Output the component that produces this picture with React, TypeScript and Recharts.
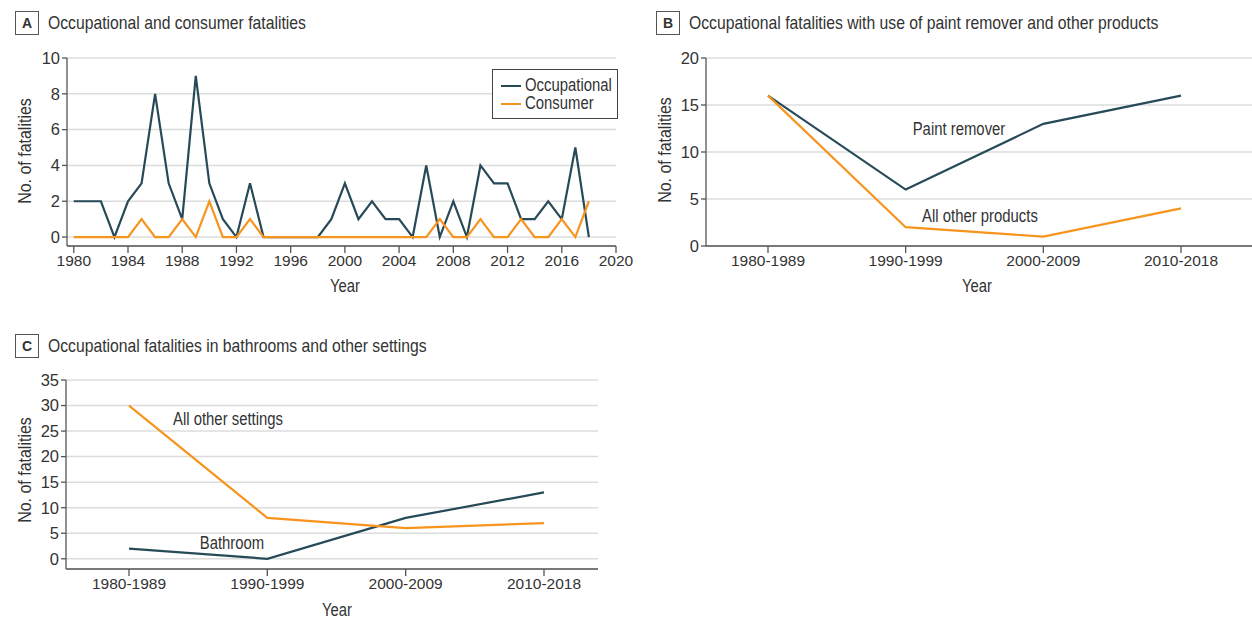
import { LineChart, Line, XAxis, YAxis, CartesianGrid } from 'recharts';

// panel A - yearly counts
const years = [
  1980, 1981, 1982, 1983, 1984, 1985, 1986, 1987, 1988, 1989,
  1990, 1991, 1992, 1993, 1994, 1995, 1996, 1997, 1998, 1999,
  2000, 2001, 2002, 2003, 2004, 2005, 2006, 2007, 2008, 2009,
  2010, 2011, 2012, 2013, 2014, 2015, 2016, 2017, 2018,
];
const occupational = [
  2, 2, 2, 0, 2, 3, 8, 3, 1, 9,
  3, 1, 0, 3, 0, 0, 0, 0, 0, 1,
  3, 1, 2, 1, 1, 0, 4, 0, 2, 0,
  4, 3, 3, 1, 1, 2, 1, 5, 0,
];
const consumer = [
  0, 0, 0, 0, 0, 1, 0, 0, 1, 0,
  2, 0, 0, 1, 0, 0, 0, 0, 0, 0,
  0, 0, 0, 0, 0, 0, 0, 1, 0, 0,
  1, 0, 0, 1, 0, 0, 1, 0, 2,
];
const yearTicks = [1980, 1984, 1988, 1992, 1996, 2000, 2004, 2008, 2012, 2016, 2020];
const ticksA = [0, 2, 4, 6, 8, 10];

// panels B and C - by decade
const decades = ['1980-1989', '1990-1999', '2000-2009', '2010-2018'];
const paintRemover = [16, 6, 13, 16];
const otherProducts = [16, 2, 1, 4];
const ticksB = [0, 5, 10, 15, 20];
const bathroom = [2, 0, 8, 13];
const otherSettings = [30, 8, 6, 7];
const ticksC = [0, 5, 10, 15, 20, 25, 30, 35];

const DARK = '#274a58';
const ORANGE = '#f7941d';
const AXIS = '#555';
const TEXT = '#333';
const SANS = '"Liberation Sans", Arial, sans-serif';
const SQUEEZE = 0.85; // reference type is a condensed face

const dataA = years.map((y, i) => ({ year: y, occupational: occupational[i], consumer: consumer[i] }));
const dataB = decades.map((d, i) => ({ decade: d, paint: paintRemover[i], other: otherProducts[i] }));
const dataC = decades.map((d, i) => ({ decade: d, bathroom: bathroom[i], other: otherSettings[i] }));

const xTick = { fill: TEXT, fontSize: 15.5, fontFamily: SANS };
const yTick = { fill: TEXT, fontSize: 16.5, fontFamily: SANS };
const axisLine = { stroke: AXIS, strokeWidth: 1.3 };

function PanelTitle({ letter, text, x, y }: { letter: string; text: string; x: number; y: number }) {
  return (
    <div style={{ position: 'absolute', left: x, top: y, display: 'flex', alignItems: 'center' }}>
      <div
        style={{
          width: 22,
          height: 22,
          border: '1.3px solid #555',
          display: 'flex',
          alignItems: 'center',
          justifyContent: 'center',
          fontFamily: SANS,
          fontWeight: 'bold',
          fontSize: 14,
          color: TEXT,
        }}
      >
        {letter}
      </div>
      <div
        style={{
          marginLeft: 9,
          fontFamily: SANS,
          fontSize: 18.5,
          color: TEXT,
          whiteSpace: 'nowrap',
          transform: `scaleX(${SQUEEZE})`,
          transformOrigin: 'left center',
        }}
      >
        {text}
      </div>
    </div>
  );
}

function Txt({ x, y, text, size = 17.5, rotate = false }: { x: number; y: number; text: string; size?: number; rotate?: boolean }) {
  return (
    <div
      style={{
        position: 'absolute',
        left: x,
        top: y,
        transform: `translate(-50%, -50%)${rotate ? ' rotate(-90deg)' : ''} scaleX(${SQUEEZE})`,
        fontFamily: SANS,
        fontSize: size,
        color: TEXT,
        whiteSpace: 'nowrap',
        lineHeight: 1,
      }}
    >
      {text}
    </div>
  );
}

export default function App() {
  const legendText = {
    position: 'absolute' as const,
    left: 32,
    lineHeight: 1,
    transform: `scaleX(${SQUEEZE})`,
    transformOrigin: 'left center',
  };
  return (
    <div style={{ position: 'absolute', left: 0, top: 0, width: 1252, height: 620, background: '#fff', overflow: 'hidden' }}>
      {/* A */}
      <PanelTitle letter="A" text="Occupational and consumer fatalities" x={15} y={11} />
      <div style={{ position: 'absolute', left: 0, top: 0 }}>
        <LineChart width={640} height={300} data={dataA} margin={{ top: 58, right: 24, bottom: 24, left: 17 }}>
          <CartesianGrid vertical={false} stroke="#dcdcdc" strokeWidth={1.5} />
          <XAxis
            dataKey="year"
            type="number"
            domain={[1979.5, 2020]}
            ticks={yearTicks}
            interval={0}
            tick={xTick}
            tickSize={7}
            tickMargin={2}
            axisLine={axisLine}
            tickLine={axisLine}
            height={30}
          />
          <YAxis
            domain={[-0.5, 10]}
            ticks={ticksA}
            interval={0}
            tick={yTick}
            tickSize={5}
            tickMargin={2}
            axisLine={axisLine}
            tickLine={axisLine}
            width={50}
          />
          <Line dataKey="occupational" stroke={DARK} strokeWidth={2.2} dot={false} isAnimationActive={false} />
          <Line dataKey="consumer" stroke={ORANGE} strokeWidth={2.2} dot={false} isAnimationActive={false} />
        </LineChart>
      </div>
      <Txt x={25} y={151} text="No. of fatalities" size={18.8} rotate />
      <Txt x={345} y={287} text="Year" />
      <div
        style={{
          position: 'absolute',
          left: 492,
          top: 69,
          width: 124,
          height: 48,
          border: '1.5px solid #444',
          background: '#fff',
          fontFamily: SANS,
          fontSize: 17.5,
          color: TEXT,
        }}
      >
        <div style={{ position: 'absolute', left: 8, top: 15, width: 20, height: 2, background: DARK }} />
        <div style={{ ...legendText, top: 7 }}>Occupational</div>
        <div style={{ position: 'absolute', left: 8, top: 33, width: 20, height: 2, background: ORANGE }} />
        <div style={{ ...legendText, top: 25 }}>Consumer</div>
      </div>

      {/* B */}
      <PanelTitle letter="B" text="Occupational fatalities with use of paint remover and other products" x={656} y={11} />
      <div style={{ position: 'absolute', left: 640, top: 0 }}>
        <LineChart width={612} height={300} data={dataB} margin={{ top: 58, right: 0, bottom: 24, left: 16 }}>
          <CartesianGrid vertical={false} stroke="#dcdcdc" strokeWidth={1.5} />
          <XAxis
            dataKey="decade"
            scale="point"
            padding={{ left: 62, right: 71 }}
            interval={0}
            tick={xTick}
            tickSize={7}
            tickMargin={2}
            axisLine={axisLine}
            tickLine={axisLine}
            height={30}
          />
          <YAxis
            domain={[0, 20]}
            ticks={ticksB}
            interval={0}
            tick={yTick}
            tickSize={5}
            tickMargin={2}
            axisLine={axisLine}
            tickLine={axisLine}
            width={50}
          />
          <Line dataKey="paint" stroke={DARK} strokeWidth={2.2} dot={false} isAnimationActive={false} />
          <Line dataKey="other" stroke={ORANGE} strokeWidth={2.2} dot={false} isAnimationActive={false} />
        </LineChart>
      </div>
      <Txt x={665} y={150} text="No. of fatalities" size={18.8} rotate />
      <Txt x={977} y={287} text="Year" />
      <Txt x={959} y={130} text="Paint remover" />
      <Txt x={980} y={217} text="All other products" />

      {/* C */}
      <PanelTitle letter="C" text="Occupational fatalities in bathrooms and other settings" x={15} y={334} />
      <div style={{ position: 'absolute', left: 0, top: 320 }}>
        <LineChart width={640} height={300} data={dataC} margin={{ top: 60, right: 42, bottom: 21, left: 16 }}>
          <CartesianGrid vertical={false} stroke="#dcdcdc" strokeWidth={1.5} />
          <XAxis
            dataKey="decade"
            scale="point"
            padding={{ left: 63, right: 54 }}
            interval={0}
            tick={xTick}
            tickSize={7}
            tickMargin={2}
            axisLine={axisLine}
            tickLine={axisLine}
            height={30}
          />
          <YAxis
            domain={[-2, 35]}
            ticks={ticksC}
            interval={0}
            tick={yTick}
            tickSize={5}
            tickMargin={2}
            axisLine={axisLine}
            tickLine={axisLine}
            width={50}
          />
          <Line dataKey="bathroom" stroke={DARK} strokeWidth={2.2} dot={false} isAnimationActive={false} />
          <Line dataKey="other" stroke={ORANGE} strokeWidth={2.2} dot={false} isAnimationActive={false} />
        </LineChart>
      </div>
      <Txt x={25} y={470} text="No. of fatalities" size={18.8} rotate />
      <Txt x={337} y={611} text="Year" />
      <Txt x={228} y={420} text="All other settings" />
      <Txt x={232} y={544} text="Bathroom" />
    </div>
  );
}
